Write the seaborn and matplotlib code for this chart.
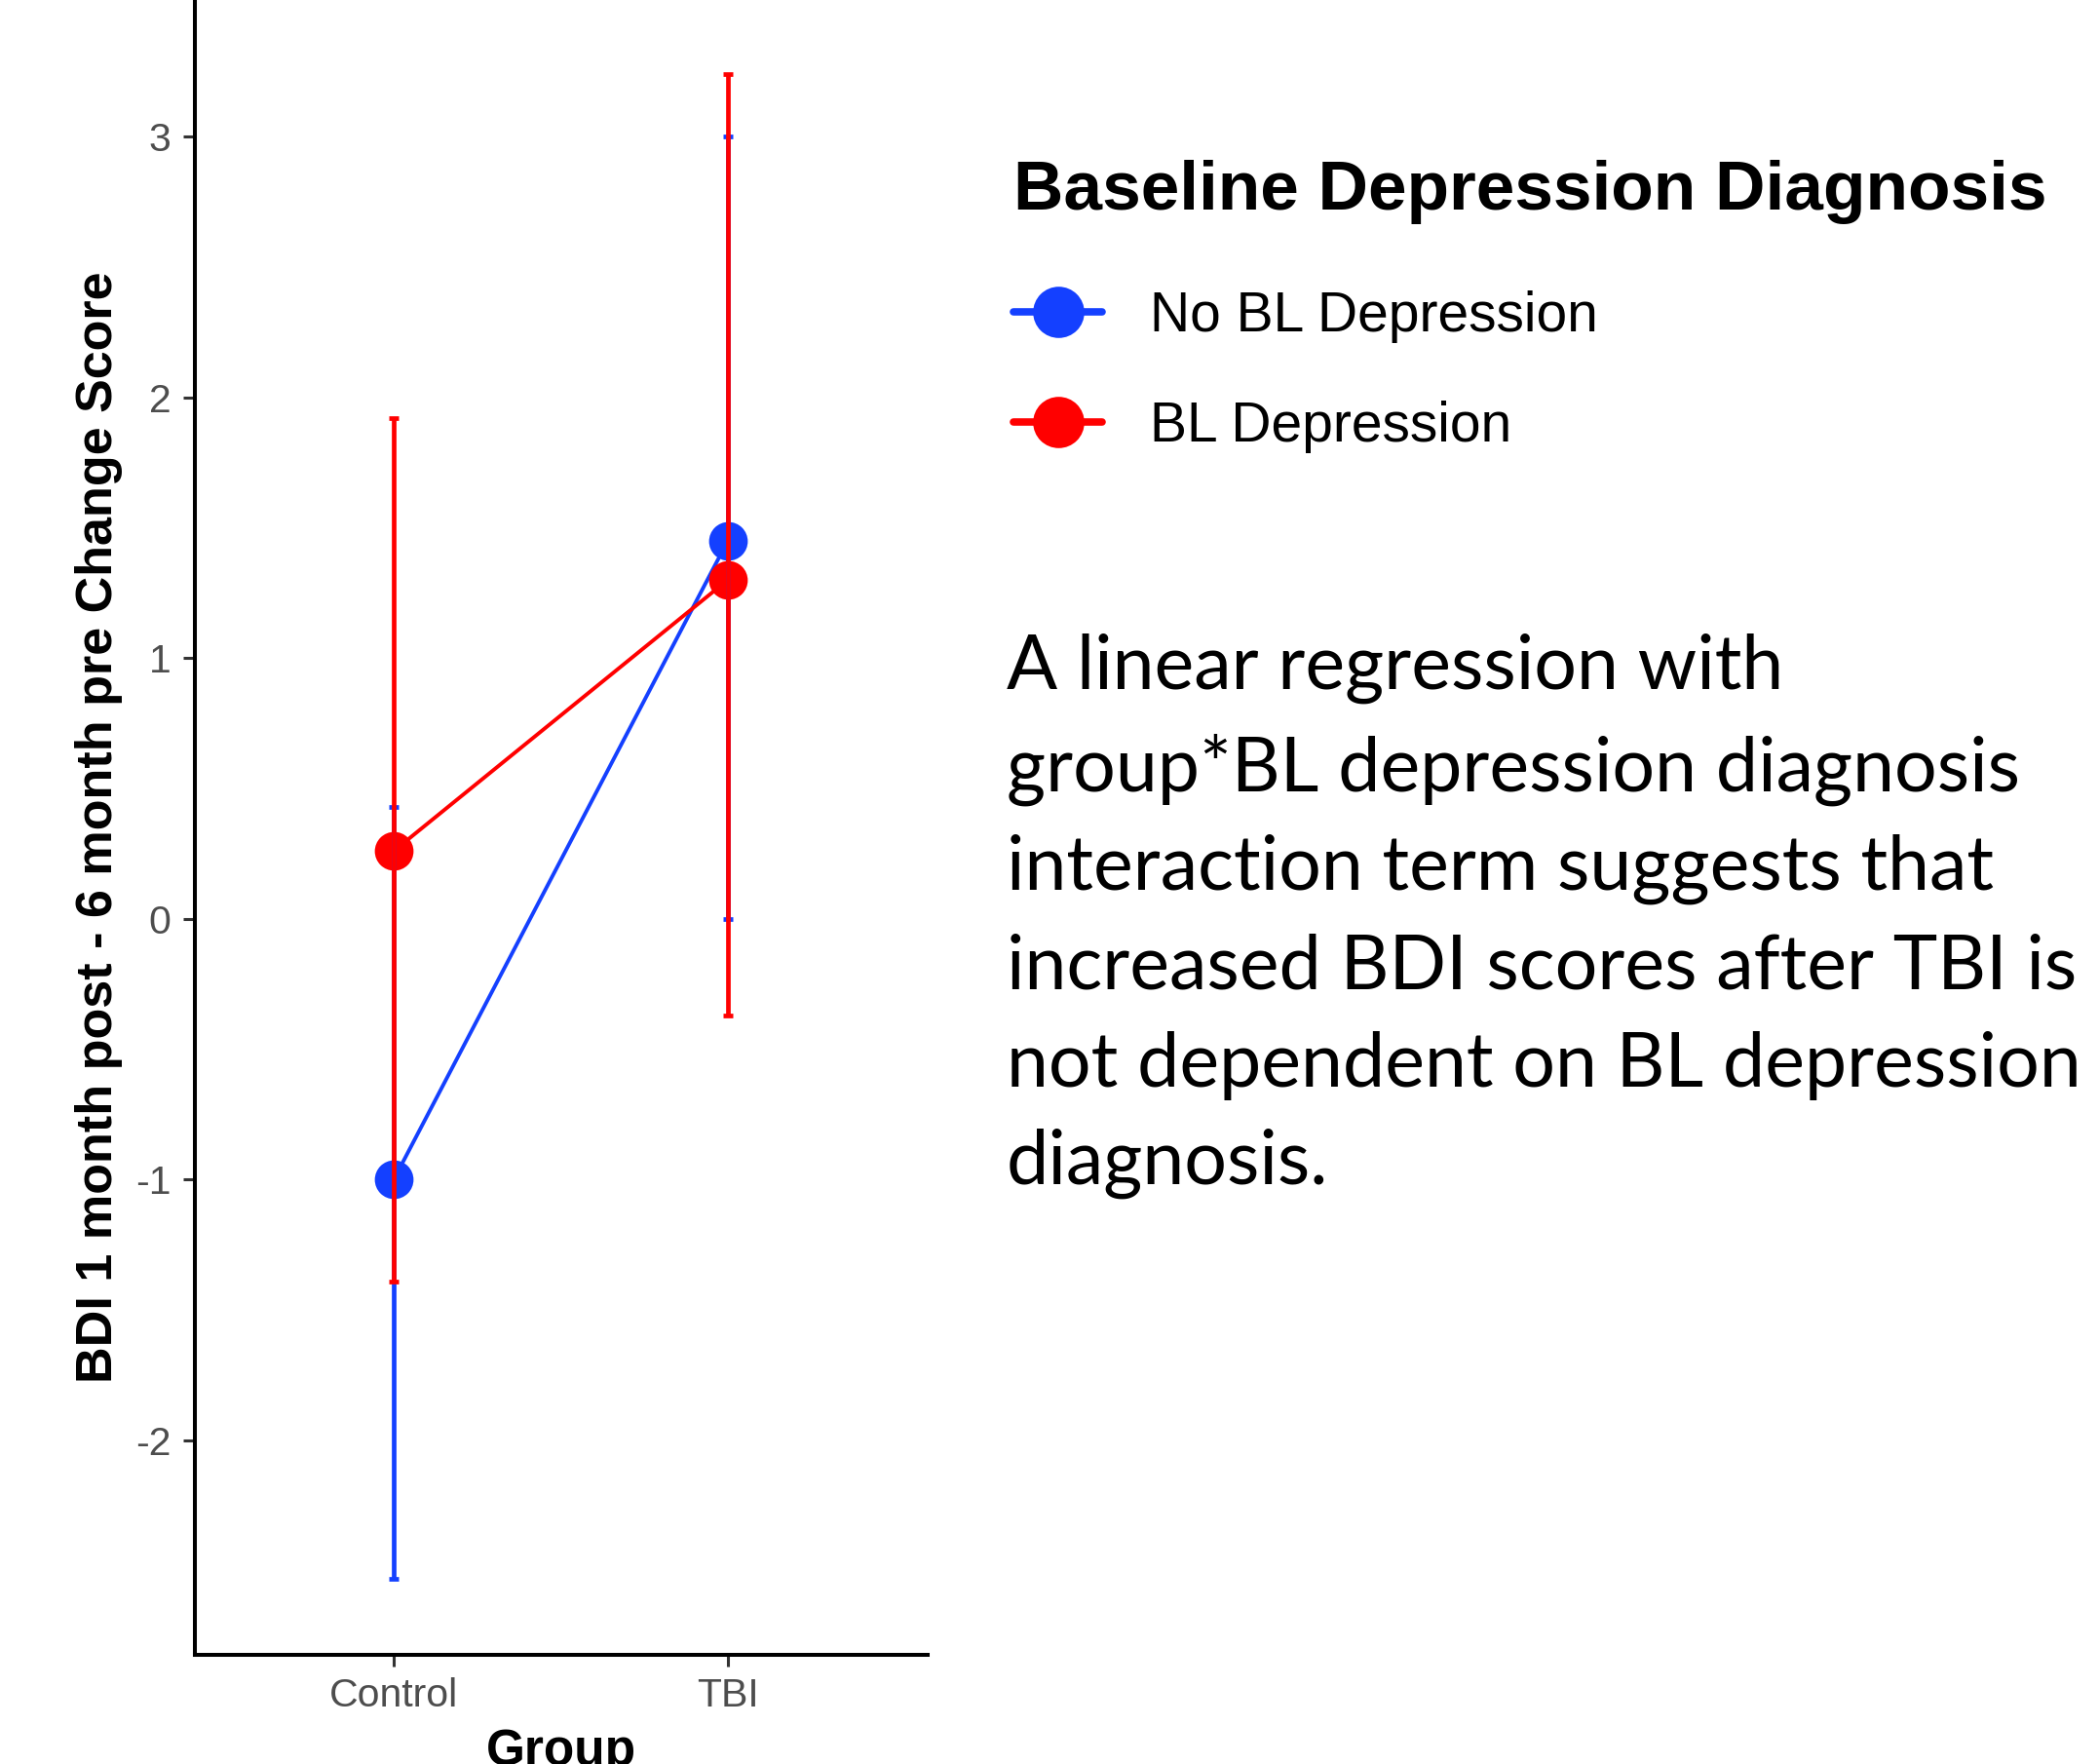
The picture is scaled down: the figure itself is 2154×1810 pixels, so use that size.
import numpy as np
import pandas as pd
import matplotlib
matplotlib.use("Agg")
import matplotlib.pyplot as plt
import seaborn as sns

# ---- data ----
groups = ["Control", "TBI"]
diagnoses = ["No BL Depression", "BL Depression"]
no_dep_mean = [-1.0, 1.45]
no_dep_low = [-2.53, 0.0]
no_dep_high = [0.43, 3.0]
dep_mean = [0.26, 1.30]
dep_low = [-1.39, -0.37]
dep_high = [1.92, 3.24]
y_ticks = [-2, -1, 0, 1, 2, 3]
colors = {"No BL Depression": "#1440FF", "BL Depression": "#FF0000"}
note = ("A linear regression with\n"
        "group*BL depression diagnosis\n"
        "interaction term suggests that\n"
        "increased BDI scores after TBI is\n"
        "not dependent on BL depression\n"
        "diagnosis.")

df = pd.DataFrame({
    "Group": groups * 2,
    "Diagnosis": [diagnoses[0]] * 2 + [diagnoses[1]] * 2,
    "Mean": no_dep_mean + dep_mean,
    "Low": no_dep_low + dep_low,
    "High": no_dep_high + dep_high,
})

sns.set_theme(style="white")
plt.rcParams["font.family"] = ["Liberation Sans", "DejaVu Sans"]

fig = plt.figure(figsize=(21.54, 18.10), dpi=100)
ax = fig.add_axes([200 / 2154, 112 / 1810, 752 / 2154, 1698 / 1810])

sns.pointplot(data=df, x="Group", y="Mean", hue="Diagnosis", order=groups,
              hue_order=diagnoses, palette=colors, errorbar=None, dodge=False,
              markers="o", markersize=26.5, linewidth=2.8, ax=ax)

# error bars at categorical positions
for d in diagnoses:
    sub = df[df["Diagnosis"] == d].set_index("Group").loc[groups]
    xs = np.arange(len(groups))
    ax.errorbar(xs, sub["Mean"].values,
                yerr=[sub["Mean"].values - sub["Low"].values,
                      sub["High"].values - sub["Mean"].values],
                fmt="none", ecolor=colors[d], elinewidth=3.4,
                capsize=3.8, capthick=3.4, zorder=6)

ax.set_xlim(-0.595, 1.598)
ax.set_ylim(-2.822, 3.523)
ax.set_yticks(y_ticks)
ax.set_yticklabels([str(v) for v in y_ticks])

for s in ["top", "right"]:
    ax.spines[s].set_visible(False)
for s in ["left", "bottom"]:
    ax.spines[s].set_color("black")
    ax.spines[s].set_linewidth(2.9)

ax.tick_params(axis="both", which="major", length=8.6, width=2.2,
               color="#333333", labelcolor="#4D4D4D", labelsize=29.5)
ax.tick_params(axis="y", pad=9, left=True)
ax.tick_params(axis="x", pad=8, bottom=True)

ax.set_ylabel("BDI 1 month post - 6 month pre Change Score",
              fontsize=37.5, fontweight="bold", color="black", va="center")
ax.yaxis.set_label_coords(-0.131, 0.5)
ax.set_xlabel("Group", fontsize=37, fontweight="bold", color="black")
ax.xaxis.set_label_coords(0.5, -0.044)

handles, labels = ax.get_legend_handles_labels()
if ax.get_legend() is not None:
    ax.get_legend().remove()
leg = fig.legend(handles, labels, title="Baseline Depression Diagnosis",
                 loc="upper left", bbox_to_anchor=(1040 / 2154, 1 - 164 / 1810),
                 frameon=False, fontsize=41, markerscale=1.35,
                 handlelength=1.6, handletextpad=0.85, labelspacing=1.03,
                 borderpad=0, borderaxespad=0, alignment="left",
                 labelcolor="black")
leg.get_title().set_fontsize(51.3)
leg.get_title().set_fontweight("bold")
leg.get_title().set_color("black")
leg._legend_box.sep = leg._legend_box.sep + 7
for h in leg.legend_handles:
    h.set_linewidth(5.5)

fig.text(1033 / 2154, 1 - 650 / 1810, note, ha="left", va="top",
         fontsize=55.5, family=["Lato", "DejaVu Sans"], color="black",
         linespacing=1.51)

fig.savefig("out.png", dpi=100)
